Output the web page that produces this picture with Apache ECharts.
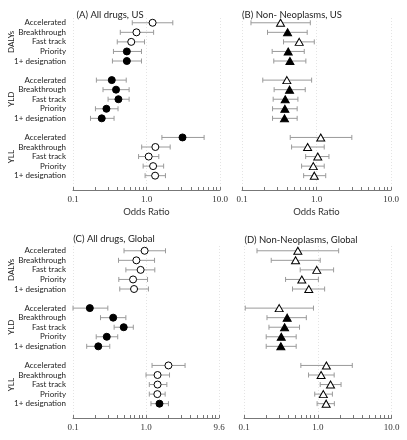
<!DOCTYPE html>
<html><head><meta charset="utf-8">
<script src="https://cdn.jsdelivr.net/npm/echarts@6/dist/echarts.min.js"></script>
<style>html,body{margin:0;padding:0;background:#fff}#c{width:407px;height:440px}</style>
</head><body><div id="c"></div>
<script>
const categories = ["Accelerated","Breakthrough","Fast track","Priority","1+ designation"];
const groups = ["DALYs","YLD","YLL"];
const titles = ["(A) All drugs, US","(B) Non- Neoplasms, US","(C) All drugs, Global","(D) Non-Neoplasms, Global"];
const tickValues = [0.1, 1, 10];
const tickLabelsA = ["0.1","1.0","10.0"];
const tickLabelsB = ["0.1","1.0","10.0"];
const tickLabelsC = ["0.1","1.0","9.6"];
const tickLabelsD = ["0.1","1.0","10.0"];
const minorTickValues = [0.2,0.3,0.4,0.5,0.6,0.7,0.8,0.9,2,3,4,5,6,7,8,9];

// order: DALYs x5, YLD x5, YLL x5 (categories order)
const orA = [1.21,0.73,0.62,0.54,0.54, 0.337,0.385,0.415,0.285,0.246, 3.09,1.32,1.07,1.23,1.31];
const loA = [0.64,0.44,0.40,0.355,0.344, 0.208,0.256,0.30,0.202,0.173, 1.62,0.86,0.78,0.90,0.957];
const hiA = [2.28,1.25,0.94,0.855,0.855, 0.53,0.58,0.58,0.41,0.362, 6.08,2.10,1.47,1.71,1.81];
const sigA = [0,0,0,1,1, 1,1,1,1,1, 1,0,0,0,0];

const orB = [0.329,0.409,0.586,0.417,0.44, 0.40,0.435,0.38,0.376,0.372, 1.14,0.76,1.04,0.906,0.934];
const loB = [0.132,0.22,0.361,0.254,0.267, 0.19,0.27,0.262,0.257,0.257, 0.444,0.463,0.715,0.631,0.672];
const hiB = [0.826,0.75,0.934,0.685,0.72, 0.86,0.706,0.563,0.55,0.55, 2.98,1.27,1.47,1.27,1.33];
const sigB = [0,1,0,1,1, 0,1,1,1,1, 0,0,0,0,0];

const orC = [0.957,0.738,0.844,0.665,0.686, 0.17,0.355,0.495,0.29,0.222, 2.03,1.44,1.44,1.43,1.53];
const loC = [0.50,0.42,0.53,0.424,0.437, 0.10,0.238,0.366,0.208,0.154, 1.21,1.0,1.11,1.11,1.17];
const hiC = [1.85,1.31,1.32,1.05,1.08, 0.30,0.53,0.67,0.41,0.319, 3.43,2.10,1.93,1.83,2.03];
const sigC = [0,0,0,0,0, 1,1,1,1,1, 0,0,0,0,1];

const orD = [0.537,0.50,0.97,0.608,0.756, 0.30,0.385,0.355,0.32,0.316, 1.31,1.11,1.49,1.19,1.30];
const loD = [0.15,0.234,0.578,0.366,0.455, 0.104,0.205,0.218,0.20,0.20, 0.59,0.75,1.08,0.91,0.98];
const hiD = [1.92,1.08,1.64,1.02,1.24, 0.875,0.70,0.566,0.51,0.51, 2.94,1.67,2.07,1.58,1.68];
const sigD = [0,0,0,0,0, 0,1,1,1,1, 0,0,0,0,0];

// 18 slots: 5 rows + gap per group, plus final gap
const slotLabels = [], groupSlotLabels = [], rowSlot = [];
groups.forEach((g, gi) => {
  categories.forEach((c, ci) => { rowSlot.push(slotLabels.length); slotLabels.push(c); groupSlotLabels.push(ci === 2 ? g : ''); });
  slotLabels.push(''); groupSlotLabels.push('');
});

const panels = [
  {or: orA, lo: loA, hi: hiA, sig: sigA, sym: 'circle', ticks: tickLabelsA, name: 'Odds Ratio', ylab: true,
   grid: {left: 73, width: 147, top: 18, height: 172}, title: [105, 5]},
  {or: orB, lo: loB, hi: hiB, sig: sigB, sym: 'triangle', ticks: tickLabelsB, name: 'Odds Ratio', ylab: false,
   grid: {left: 242, width: 149, top: 18, height: 172}, title: [287, 5]},
  {or: orC, lo: loC, hi: hiC, sig: sigC, sym: 'circle', ticks: tickLabelsC, name: '', ylab: true,
   grid: {left: 73, width: 146, top: 246, height: 172}, title: [109, 229]},
  {or: orD, lo: loD, hi: hiD, sig: sigD, sym: 'triangle', ticks: tickLabelsD, name: '', ylab: false,
   grid: {left: 244, width: 147.5, top: 246, height: 172}, title: [296, 230]}
];

const FONT = 'Lato';
const SERIF = 'Liberation Serif';
const option = {animation: false, backgroundColor: '#fff',
  title: [], grid: [], xAxis: [], yAxis: [], series: []};

panels.forEach((p, i) => {
  option.title.push({text: titles[i], left: p.title[0], top: p.title[1], textAlign: 'center',
    textStyle: {fontFamily: FONT, fontSize: 9.5, fontWeight: 'normal', color: '#222'}});
  option.grid.push(p.grid);
  // main axis: line, major ticks, labels, gridlines
  option.xAxis.push({type: 'log', gridIndex: i, position: 'bottom', min: 0.1, max: 10, logBase: 10,
    name: p.name, nameLocation: 'middle', nameGap: 17,
    nameTextStyle: {fontFamily: FONT, fontSize: 9.5, color: '#333'},
    axisLine: {show: true, onZero: false, lineStyle: {color: '#777', width: 1}},
    axisTick: {show: true, inside: true, length: 3, customValues: tickValues, lineStyle: {color: '#777'}},
    minorTick: {show: false},
    axisLabel: {margin: 5, fontFamily: SERIF, fontSize: 9, color: '#333', customValues: tickValues,
      formatter: (v) => { const k = tickValues.findIndex(t => Math.abs(Math.log10(t) - Math.log10(v)) < 1e-6); return k >= 0 ? p.ticks[k] : ''; }},
    splitLine: {show: true, lineStyle: {color: '#e4e4e4', type: [1, 2], width: 1}}
  });
  // minor-tick axis on the same grid
  option.xAxis.push({type: 'log', gridIndex: i, position: 'bottom', offset: 0, min: 0.1, max: 10, logBase: 10,
    axisLine: {show: false, onZero: false},
    axisTick: {show: true, inside: true, length: 3, customValues: minorTickValues, lineStyle: {color: '#777'}},
    axisLabel: {show: false}, splitLine: {show: false}, minorTick: {show: false}
  });
  option.yAxis.push({type: 'category', gridIndex: i, inverse: true, data: slotLabels, boundaryGap: true,
    axisLine: {show: false}, axisTick: {show: false}, splitLine: {show: false},
    axisLabel: {show: p.ylab, interval: 0, margin: 7, fontFamily: FONT, fontSize: 8, color: '#222'}});
  option.yAxis.push({type: 'category', gridIndex: i, inverse: true, data: groupSlotLabels, boundaryGap: true,
    position: 'left', offset: 58,
    axisLine: {show: false}, axisTick: {show: false}, splitLine: {show: false},
    axisLabel: {show: p.ylab, interval: 0, rotate: 90, margin: 0, fontFamily: FONT, fontSize: 8, color: '#222'}});
  const ciData = p.or.map((v, k) => [rowSlot[k], p.lo[k], p.hi[k]]);
  option.series.push({type: 'custom', xAxisIndex: 2 * i, yAxisIndex: 2 * i, data: ciData, z: 2,
    encode: {y: 0, x: [1, 2]},
    renderItem: (params, api) => {
      const a = api.coord([api.value(1), api.value(0)]);
      const b = api.coord([api.value(2), api.value(0)]);
      const st = {stroke: '#9a9a9a', lineWidth: 1};
      const h = 2.5;
      return {type: 'group', children: [
        {type: 'line', shape: {x1: a[0], y1: a[1], x2: b[0], y2: b[1]}, style: st},
        {type: 'line', shape: {x1: a[0], y1: a[1] - h, x2: a[0], y2: a[1] + h}, style: st},
        {type: 'line', shape: {x1: b[0], y1: b[1] - h, x2: b[0], y2: b[1] + h}, style: st}
      ]};
    }});
  option.series.push({type: 'scatter', xAxisIndex: 2 * i, yAxisIndex: 2 * i, z: 5,
    symbol: p.sym, symbolSize: p.sym === 'circle' ? 7 : [8, 7],
    data: p.or.map((v, k) => ({value: [v, rowSlot[k]],
      itemStyle: {color: p.sig[k] ? '#000' : '#fff', borderColor: '#000', borderWidth: 1, opacity: 1}}))});
});

const chart = echarts.init(document.getElementById('c'), null, {renderer: 'canvas'});
chart.setOption(option);
</script></body></html>
